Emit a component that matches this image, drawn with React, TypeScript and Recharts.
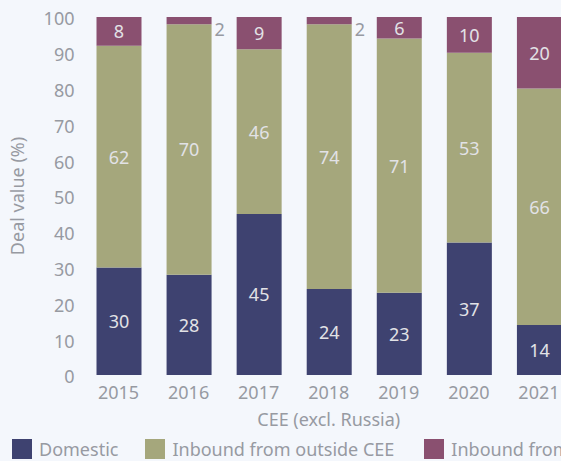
import React from "react";
import { BarChart, Bar, XAxis, YAxis, Legend, LabelList, Label } from "recharts";

const years = ["2015", "2016", "2017", "2018", "2019", "2020", "2021"];
const domestic = [30, 28, 45, 24, 23, 37, 14];
const inboundOutside = [62, 70, 46, 74, 71, 53, 66];
const inboundWithin = [8, 2, 9, 2, 6, 10, 20];
const yTicks = [0, 10, 20, 30, 40, 50, 60, 70, 80, 90, 100];

const seriesNames = ["Domestic", "Inbound from outside CEE", "Inbound from within CEE"];
const colors = ["#3e4270", "#a5a77c", "#8a5070"];
const legendGaps = [27, 30, 0];

const data = years.map((y, i) => ({
  year: y,
  domestic: domestic[i],
  outside: inboundOutside[i],
  within: inboundWithin[i],
}));

const FONT = "'Noto Sans', sans-serif";
const GRAY = "#979aa2";
const LABEL_LIGHT = "#e2e2e6";

const renderLabel = (props: any) => {
  const { x, y, width, height, value } = props;
  if (value < 4) {
    return (
      <text
        x={x + width + 3}
        y={y + 12}
        fill={GRAY}
        fontSize={18}
        fontFamily={FONT}
        textAnchor="start"
        dominantBaseline="central"
      >
        {value}
      </text>
    );
  }
  return (
    <text
      x={x + width / 2}
      y={y + height / 2}
      fill={LABEL_LIGHT}
      fontSize={18}
      fontFamily={FONT}
      textAnchor="middle"
      dominantBaseline="central"
    >
      {value}
    </text>
  );
};

const renderLegend = () => (
  <div
    style={{
      display: "flex",
      alignItems: "center",
      paddingLeft: 12,
      height: 24,
      fontFamily: FONT,
      fontSize: 18,
      color: GRAY,
      whiteSpace: "nowrap",
    }}
  >
    {seriesNames.map((n, i) => (
      <div key={n} style={{ display: "flex", alignItems: "center", marginRight: legendGaps[i] }}>
        <div style={{ width: 20, height: 20, background: colors[i], marginRight: 7 }} />
        <span>{n}</span>
      </div>
    ))}
  </div>
);

export default function App() {
  return (
    <div
      style={{
        position: "absolute",
        left: 0,
        top: 0,
        width: 561,
        height: 461,
        overflow: "hidden",
        background: "#f4f7fc",
      }}
    >
      <BarChart
        width={574}
        height={461}
        data={data}
        margin={{ top: 17, right: 0, bottom: 0, left: 0 }}
      >
        <XAxis
          dataKey="year"
          axisLine={false}
          tickLine={false}
          height={62}
          tick={{ fill: GRAY, fontSize: 18, fontFamily: FONT }}
          tickMargin={5}
          interval={0}
        >
          <Label
            value="CEE (excl. Russia)"
            position="insideBottom"
            offset={11}
            style={{ fill: GRAY, fontSize: 18, fontFamily: FONT }}
          />
        </XAxis>
        <YAxis
          width={83.5}
          domain={[0, 100]}
          ticks={yTicks}
          axisLine={false}
          tickLine={false}
          tickMargin={3}
          interval={0}
          tick={{ fill: GRAY, fontSize: 18, fontFamily: FONT, dy: 2 }}
        >
          <Label
            value="Deal value (%)"
            angle={-90}
            position="insideLeft"
            offset={18}
            style={{ fill: GRAY, fontSize: 18, fontFamily: FONT, textAnchor: "middle" }}
          />
        </YAxis>
        <Legend verticalAlign="bottom" content={renderLegend} />
        <Bar dataKey="domestic" stackId="a" fill={colors[0]} barSize={45} isAnimationActive={false} name={seriesNames[0]}>
          <LabelList dataKey="domestic" content={renderLabel} />
        </Bar>
        <Bar dataKey="outside" stackId="a" fill={colors[1]} barSize={45} isAnimationActive={false} name={seriesNames[1]}>
          <LabelList dataKey="outside" content={renderLabel} />
        </Bar>
        <Bar dataKey="within" stackId="a" fill={colors[2]} barSize={45} isAnimationActive={false} name={seriesNames[2]}>
          <LabelList dataKey="within" content={renderLabel} />
        </Bar>
      </BarChart>
    </div>
  );
}
